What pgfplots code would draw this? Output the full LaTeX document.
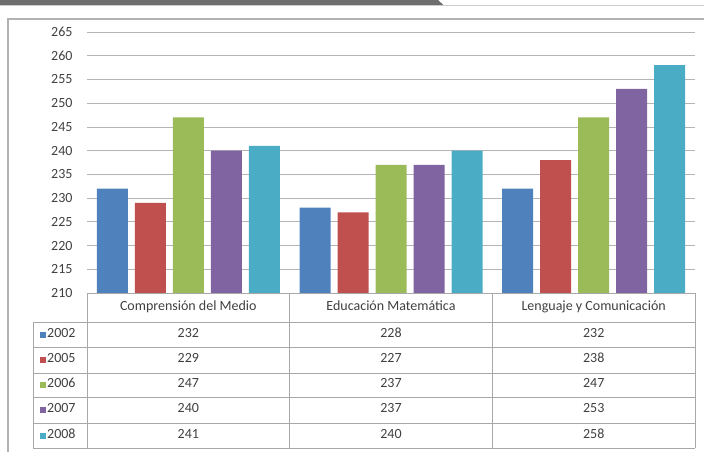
\documentclass[border=0pt]{standalone}
\usepackage{pgfplots}
\pgfplotsset{compat=1.18}
\usepackage{fontspec}
\setmainfont{Carlito}
\definecolor{cA}{HTML}{4F81BD}
\definecolor{cB}{HTML}{C0504D}
\definecolor{cC}{HTML}{9BBB59}
\definecolor{cD}{HTML}{8064A2}
\definecolor{cE}{HTML}{4BACC6}
\definecolor{txt}{HTML}{404040}
\definecolor{gridc}{HTML}{B4B4B4}
\definecolor{tabc}{HTML}{A8A8A8}
\begin{document}
\begin{tikzpicture}
\begin{scope}[x=1pt,y=1pt]
\useasboundingbox (0,0) rectangle (704,451);
% header band
\fill[black!57] (0,451) -- (438,451) -- (444,445.5) -- (0,445.5) -- cycle;
\draw[black!20, line width=0.8] (444,446) -- (704,446);
% frame
\draw[black!30, line width=1.2] (8,-10) rectangle (720,432);
\end{scope}
\begin{axis}[
  at={(87pt,158pt)}, anchor=south west, scale only axis,
  width=608pt, height=261pt,
  xmin=-0.5, xmax=2.5, ymin=210, ymax=265,
  ytick={210,215,...,265}, xtick=\empty,
  axis line style={draw=none}, tick style={draw=none},
  ymajorgrids, grid style={gridc, line width=0.8},
  yticklabel style={font=\fontsize{14}{16}\selectfont, text=txt, xshift=-11pt},
  /pgf/number format/assume math mode=true,
  ybar=7pt, bar width=31pt, clip=false,
]
\addplot[fill=cA, draw=none] coordinates {(0,232) (1,228) (2,232)};
\addplot[fill=cB, draw=none] coordinates {(0,229) (1,227) (2,238)};
\addplot[fill=cC, draw=none] coordinates {(0,247) (1,237) (2,247)};
\addplot[fill=cD, draw=none] coordinates {(0,240) (1,237) (2,253)};
\addplot[fill=cE, draw=none] coordinates {(0,241) (1,240) (2,258)};
\end{axis}
% data table
\begin{scope}[x=1pt,y=1pt]
\begin{scope}[tabc, line width=0.8]
\draw (87,158) -- (695,158);
\foreach \yy in {129,104,78,54,28,3} \draw (33,\yy) -- (695,\yy);
\draw (87,158) -- (87,3);
\draw (33,129) -- (33,3);
\draw (289.7,158) -- (289.7,3);
\draw (492.3,158) -- (492.3,3);
\draw (695,158) -- (695,3);
\end{scope}
\begin{scope}[every node/.style={text=txt, font=\fontsize{14}{16}\selectfont, inner sep=0pt, text height=1.4ex, text depth=0.3ex}]
\node at (188.3,143.5) {Comprensión del Medio};
\node at (391,143.5) {Educación Matemática};
\node at (593.7,143.5) {Lenguaje y Comunicación};
\foreach \yy/\yr/\cc/\a/\b/\c in {116.5/2002/cA/232/228/232, 91/2005/cB/229/227/238, 66/2006/cC/247/237/247, 41/2007/cD/240/237/253, 15.5/2008/cE/241/240/258}{
  \fill[\cc] (40,\yy-3) rectangle (46,\yy+3);
  \node[anchor=west] at (47,\yy) {\yr};
  \node at (188.3,\yy) {\a};
  \node at (391,\yy) {\b};
  \node at (593.7,\yy) {\c};
}
\end{scope}
\end{scope}
\end{tikzpicture}
\end{document}
